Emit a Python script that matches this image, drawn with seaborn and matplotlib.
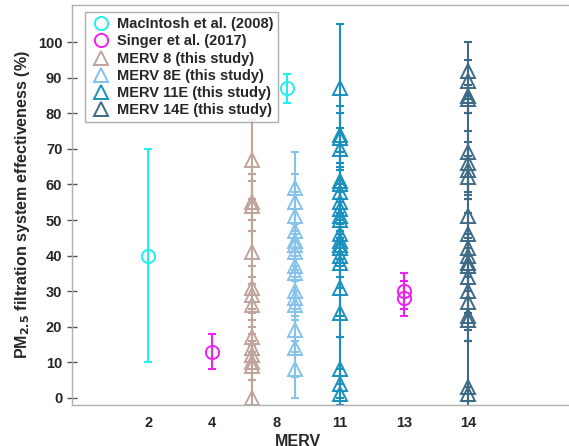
import matplotlib
matplotlib.use('Agg')
import matplotlib.pyplot as plt
import seaborn as sns
import numpy as np

# MERV categories on the x axis
merv_labels = ['2', '4', '8', '11', '13', '14']

# literature values
macintosh_x = [1, 3.17]
macintosh_y = [40, 87]
macintosh_lo = [30, 4]
macintosh_hi = [30, 4]

singer_x = [2, 5, 5]
singer_y = [13, 28, 30]
singer_err = [5, 5, 5]

# this study
merv8_y = [67, 55, 54, 41, 31, 29, 26, 17, 14, 12, 10, 9, 0]
merv8_err = [11, 8, 7, 9, 6, 5, 6, 5, 4, 4, 5, 4, 5]

merv8e_y = [59, 55, 51, 47, 44, 43, 41, 37, 35, 30, 28, 26, 19, 14, 8]
merv8e_err = [10, 8, 7, 6, 5, 6, 5, 4, 5, 4, 5, 4, 6, 8, 8]

merv11e_y = [87, 74, 73, 70, 61, 60, 58, 55, 53, 51, 50, 46, 44, 43, 42, 40, 38, 31, 24, 8, 4, 1]
merv11e_err = [18, 8, 7, 6, 5, 5, 6, 5, 5, 4, 5, 4, 5, 4, 5, 6, 7, 8, 7, 9, 4, 3]

merv14e_y = [92, 89, 85, 84, 69, 66, 64, 62, 51, 46, 42, 40, 38, 37, 34, 30, 27, 23, 22, 3, 1]
merv14e_err = [8, 6, 5, 4, 11, 9, 8, 6, 5, 6, 4, 5, 4, 5, 4, 6, 8, 7, 6, 13, 2]

sns.set_style('white')
plt.rcParams['font.family'] = ['Liberation Sans', 'DejaVu Sans']
plt.rcParams['font.weight'] = 'bold'
plt.rcParams['mathtext.default'] = 'bf'

fig = plt.figure(figsize=(5.69, 4.46), dpi=100)
ax = fig.add_axes([0.1265, 0.092, 0.893, 0.897])

c_mac = '#22f0f0'
c_sin = '#f020f0'
c_m8 = '#bfa49c'
c_m8e = '#86c2ea'
c_m11 = '#1a90bd'
c_m14 = '#3e6a86'

ekw = dict(fmt='none', capsize=3, elinewidth=1.5, capthick=1.5)
mkw = dict(linestyle='none', mfc='none', mew=1.4)

groups = [
    (2.63, merv8_y, merv8_err, c_m8, 'MERV 8 (this study)'),
    (3.30, merv8e_y, merv8e_err, c_m8e, 'MERV 8E (this study)'),
    (4.0, merv11e_y, merv11e_err, c_m11, 'MERV 11E (this study)'),
    (6.0, merv14e_y, merv14e_err, c_m14, 'MERV 14E (this study)'),
]

ax.errorbar(macintosh_x, macintosh_y, yerr=[macintosh_lo, macintosh_hi], ecolor=c_mac, **ekw)
ax.plot(macintosh_x, macintosh_y, marker='o', ms=9.5, color=c_mac, label='MacIntosh et al. (2008)', **mkw)
ax.errorbar(singer_x, singer_y, yerr=singer_err, ecolor=c_sin, **ekw)
ax.plot(singer_x, singer_y, marker='o', ms=9.5, color=c_sin, label='Singer et al. (2017)', **mkw)

for xpos, ys, errs, col, lab in groups:
    xs = np.full(len(ys), xpos)
    ax.errorbar(xs, ys, yerr=errs, ecolor=col, **ekw)
    ax.plot(xs, ys, marker='^', ms=10, color=col, label=lab, **mkw)

ax.set_xlim(-0.19, 7.75)
ax.set_ylim(-2, 110.5)
ax.set_xticks(range(1, 7))
ax.set_xticklabels(merv_labels)
ax.set_yticks(range(0, 101, 10))
ax.tick_params(axis='x', length=0, labelsize=10.5, colors='#262626', pad=8)
ax.tick_params(axis='y', direction='inout', length=7, width=1, color='#555555',
               labelsize=10.5, labelcolor='#262626', left=True)
for lab in ax.get_xticklabels() + ax.get_yticklabels():
    lab.set_fontweight('bold')

for s in ['left', 'bottom', 'top']:
    ax.spines[s].set_color('#b0b0b0')
    ax.spines[s].set_linewidth(1)
ax.spines['right'].set_visible(False)

ax.set_ylabel('PM$_{2.5}$ filtration system effectiveness (%)', fontsize=11.5,
              fontweight='bold', color='#262626', labelpad=4)
ax.set_xlabel('MERV', fontsize=11.5, fontweight='bold', color='#262626', labelpad=2)
ax.xaxis.set_label_coords((298 - 72) / (0.893 * 569), -0.072)

leg = ax.legend(loc='upper left', bbox_to_anchor=(0.025, 0.982), frameon=True, fancybox=False,
                prop={'weight': 'bold', 'size': 10.5}, handletextpad=0.35, labelspacing=0.22,
                borderpad=0.35, handlelength=1.5, borderaxespad=0)
leg.get_frame().set_edgecolor('#999999')
leg.get_frame().set_linewidth(1)

fig.savefig('out.png', dpi=100)
